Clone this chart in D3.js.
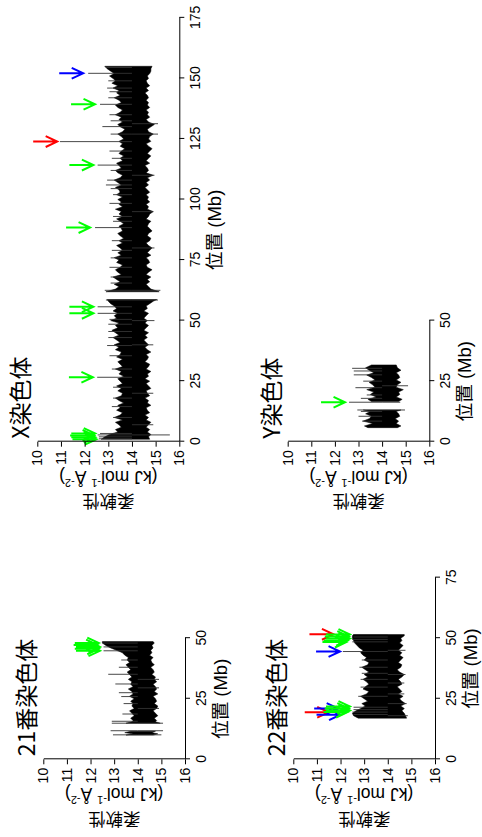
<!DOCTYPE html>
<html><head><meta charset="utf-8">
<script src="https://cdn.jsdelivr.net/npm/d3@7"></script>
<style>
html,body{margin:0;padding:0;background:#fff;}
svg{display:block;}
</style>
</head><body>
<script>
// ---------------- DATA ----------------
// Flexibility (kJ mol-1 Å-2) vs. position (Mb): band = lower / upper envelope, null = gap
const chr21Pos = [10.0,10.5,11.0,11.6,null,14.9,15.5,16,17,18,19,20,21,22,23,24,25,26,27,28,29,30,31,32,33,34,35,36,37,38,39,40,41,42,43,44,45,46,47,48,48.6];
const chr21Lo  = [13.5,13.8,13.45,13.7,null,13.5,13.75,13.8,13.7,13.85,13.75,13.65,13.85,13.75,13.8,13.7,13.85,13.65,13.8,13.75,13.6,13.8,13.7,13.75,13.6,13.75,13.65,13.55,13.7,13.6,13.5,13.65,13.55,13.6,13.45,13.35,13.1,12.85,12.65,12.5,12.5];
const chr21Hi  = [14.65,14.85,14.6,14.75,null,14.95,14.75,14.8,14.7,14.85,14.75,14.65,14.8,14.85,14.7,14.8,14.75,14.65,14.85,14.7,14.8,14.75,14.65,14.8,14.7,14.75,14.6,14.7,14.65,14.55,14.7,14.6,14.55,14.65,14.5,14.6,14.55,14.65,14.6,14.7,14.65];
const chr21Spikes = [[44.8,12.55],[46.4,12.55],[48,12.5],[35.1,12.75],[31.1,13.05],[38,13.2],[27.5,13.2],[25.9,13.3],[23.0,13.4],[18.7,13.35],[15.7,12.9],[14.9,12.9],[14.9,15.07],[11.8,12.85],[11.8,15.07],[10.1,12.95],[10.1,15.0],[33,14.9],[21,14.9],[29.5,14.9],[41,13.3]];
const chr21Red = [];
const chr21Blue = [];
const chr21Green = [[48.0,12.35],[47.2,12.3],[46.4,12.4],[45.6,12.35],[44.8,12.4]];

const chr22Pos = [17,18,19,20,21,22,23,24,25,26,27,28,29,30,31,32,33,34,35,36,37,38,39,40,41,42,43,44,45,46,47,48,49,50,51,51.5];
const chr22Lo  = [12.75,12.55,12.5,12.65,12.85,13.05,12.9,13.15,13.0,12.85,13.1,13.2,12.95,13.05,13.2,13.1,12.95,13.15,13.0,13.2,13.05,12.9,13.15,13.2,13.0,13.1,12.95,12.85,12.95,12.8,12.7,12.6,12.55,12.5,12.5,12.55];
const chr22Hi  = [14.8,14.75,14.7,14.6,14.7,14.55,14.75,14.6,14.5,14.65,14.45,14.6,14.5,14.4,14.6,14.55,14.45,14.6,14.7,14.5,14.4,14.55,14.6,14.45,14.55,14.65,14.5,14.6,14.45,14.55,14.65,14.5,14.6,14.55,14.7,14.7];
const chr22Spikes = [[51.5,12.55],[50.5,12.55],[49.5,12.5],[48.5,12.5],[44.5,12.1],[21.5,12.55],[20.5,12.55],[19.5,12.5],[18.5,12.55],[38,12.8],[33,12.85],[29.8,12.85],[26,12.75],[41,12.9],[35.5,12.9],[23,14.8],[18,14.85],[35,14.75],[27,14.7],[45,14.75],[31.5,14.7]];
const chr22Red = [[51.6,11.7],[19.4,11.5]];
const chr22Blue = [[44.5,11.98],[21.0,11.9],[18.4,12.0]];
const chr22Green = [[51.5,12.4],[50.7,12.35],[49.9,12.4],[49.1,12.3],[48.4,12.25],[21.8,12.4],[21.0,12.35],[20.2,12.4],[19.5,12.3]];

const chrXPos = [1,2,3,4,5,6,7,8,9,10,11,12,13,14,15,16,17,18,19,20,21,22,23,24,25,26,27,28,29,30,31,32,33,34,35,36,37,38,39,40,41,42,43,44,45,46,47,48,49,50,51,52,53,54,55,56,57,58,58.7,null,
  61.9,63,64,65,66,67,68,69,70,71,72,73,74,75,76,77,78,79,80,81,82,83,84,85,86,87,88,89,90,91,92,93,94,95,96,97,98,99,100,101,102,103,104,105,106,107,108,109,110,111,112,113,114,115,116,117,118,119,120,121,122,123,124,125,126,127,128,129,130,131,132,133,134,135,136,137,138,139,140,141,142,143,144,145,146,147,148,149,150,151,152,153,154,155];
const chrXLo = [12.7,12.85,13.05,13.4,13.3,13.55,13.45,13.3,13.6,13.25,13.5,13.6,13.35,13.5,13.4,13.65,13.45,13.3,13.55,13.6,13.4,13.55,13.35,13.6,13.5,13.4,13.65,13.45,13.55,13.3,13.6,13.5,13.4,13.6,13.35,13.5,13.55,13.3,13.45,13.25,13.5,13.35,13.2,13.45,13.3,13.15,13.4,13.3,13.45,13.1,13.35,13.25,13.4,13.2,13.35,13.25,13.1,13.0,12.95,null,
  12.9,13.3,13.45,13.25,13.5,13.35,13.2,13.55,13.4,13.3,13.5,13.6,13.35,13.45,13.25,13.55,13.4,13.6,13.5,13.35,13.6,13.45,13.65,13.5,13.4,13.6,13.55,13.45,13.65,13.5,13.35,13.6,13.45,13.55,13.3,13.6,13.45,13.55,13.4,13.6,13.35,13.5,13.45,13.3,13.55,13.4,13.25,13.5,13.6,13.4,13.3,13.55,13.45,13.35,13.6,13.5,13.65,13.45,13.55,13.7,13.5,13.6,13.45,13.65,13.55,13.4,13.6,13.7,13.5,13.4,13.6,13.45,13.55,13.3,13.5,13.6,13.4,13.3,13.55,13.45,13.25,13.5,13.35,13.45,13.2,13.4,13.15,13.3,13.2,13.05,13.25,13.1,12.95,12.85];
const chrXHi = [14.75,14.7,14.8,14.65,14.75,14.6,14.7,14.8,14.6,14.7,14.55,14.75,14.65,14.6,14.8,14.65,14.7,14.55,14.75,14.65,14.6,14.8,14.7,14.6,14.75,14.55,14.7,14.65,14.8,14.6,14.7,14.75,14.55,14.65,14.7,14.6,14.8,14.65,14.55,14.7,14.6,14.5,14.65,14.55,14.7,14.5,14.6,14.7,14.55,14.65,14.5,14.6,14.7,14.5,14.65,14.6,14.75,14.9,15.05,null,
  15.15,14.8,14.7,14.6,14.75,14.65,14.8,14.6,14.7,14.85,14.65,14.6,14.75,14.7,14.6,14.8,14.65,14.75,14.85,14.7,14.6,14.75,14.8,14.65,14.7,14.85,14.75,14.65,14.7,14.8,14.6,14.7,14.75,14.9,14.65,14.7,14.6,14.75,14.65,14.7,14.6,14.75,14.65,14.55,14.7,14.6,14.75,14.65,14.9,14.6,14.7,14.65,14.55,14.75,14.6,14.7,14.8,14.65,14.75,14.85,14.7,14.6,14.8,14.7,14.75,14.9,14.7,14.65,14.8,14.95,14.7,14.6,14.75,14.65,14.7,14.6,14.75,14.65,14.7,14.6,14.7,14.65,14.55,14.7,14.6,14.75,14.65,14.6,14.7,14.65,14.75,14.8,14.8,14.85];
const chrXSpikes = [[1.2,12.6],[2.0,12.6],[2.8,12.55],[3.4,12.65],[10,13.2],[18,13.2],[26.6,12.53],[30,13.15],[35.5,13.05],[39.7,12.95],[45.5,13.0],[48.5,13.0],[53.0,12.55],[55.7,12.55],[58.5,12.9],[62.5,12.85],[68,13.1],[72,13.05],[75.9,13.1],[83,13.15],[88.4,12.44],[93,13.2],[98.4,13.05],[102,13.2],[106,12.9],[108,12.95],[112,13.1],[114.2,12.55],[120,13.05],[123.9,10.96],[127,13.1],[130.1,12.75],[135,13.05],[139.3,12.65],[142,13.0],[146,12.95],[149,13.0],[152.1,12.15],[154.5,12.9],
  [14.5,13.15],[22.5,13.2],[43,13.0],[50.5,13.05],[65.5,13.1],[79,13.15],[91,13.2],[104.5,13.1],[117,13.15],[132.5,13.1],[144.5,13.05],
  [2.8,15.6],[50,14.95],[58.5,15.1],[62.5,15.2],[127,15.1],[131.3,15.1],[110,14.95],[95,14.9],[40,14.9],[20,14.9],[7,14.9],[80,14.95]];
const chrXRed = [[123.9,10.84]];
const chrXBlue = [[152.1,11.94]];
const chrXGreen = [[26.6,12.35],[53.0,12.37],[55.7,12.37],[88.4,12.23],[114.2,12.37],[139.3,12.44],[3.4,12.45],[2.6,12.4],[1.8,12.45],[1.0,12.5]];

const chrYPos = [5.8,6.5,7.5,8.5,9.5,10.5,11.5,12.5,13.1,null,16.6,17.5,18.5,19.5,20.5,21.5,22.5,23.5,24.5,25.5,26.5,27.5,28.5,29.5,30.5,31.7];
const chrYLo  = [13.4,13.25,13.6,13.2,13.45,13.55,13.3,13.5,13.2,null,13.55,13.4,13.75,13.5,13.65,13.35,13.7,13.6,13.45,13.7,13.55,13.35,13.65,13.45,13.3,13.55];
const chrYHi  = [14.65,14.8,14.6,14.7,14.55,14.75,14.7,14.6,14.8,null,14.7,14.85,14.6,14.75,14.7,14.9,14.6,14.65,14.8,14.6,14.75,14.7,14.6,14.8,14.65,14.6];
const chrYSpikes = [[16.3,12.6],[16.3,14.77],[30.3,12.73],[29.2,12.8],[27.6,12.8],[22.3,12.87],[19.3,13.35],[17.9,13.1],[25,13.2],[12.5,13.1],[8.5,13.15],[10.5,13.0],[13.1,12.95],[13.1,14.97],[23.1,15.1]];
const chrYRed = [];
const chrYBlue = [];
const chrYGreen = [[16.3,12.43]];

const titles = ["21番染色体","22番染色体","X染色体","Y染色体"];
const xTicks21 = [0,25,50], xTicks22 = [0,25,50,75], xTicksX = [0,25,50,75,100,125,150,175], xTicksY = [0,25,50];
const yTicks = [10,11,12,13,14,15,16];
const xLabel = "位置 (Mb)";
const yLabel1 = "柔軟性";

// ---------------- DRAW ----------------
const svg = d3.select("body").append("svg").attr("width",482).attr("height",837);
svg.append("rect").attr("width",482).attr("height",837).attr("fill","#fff");
// whole figure is drawn in landscape and turned a quarter turn
const root = svg.append("g").attr("transform","translate(0,837) rotate(-90)");

const PXMB = 2.422;
const latin = "'Liberation Sans', Arial, 'Noto Sans CJK JP', sans-serif";
const cjk = "'Noto Sans CJK JP', 'Noto Sans CJK SC', sans-serif";

function panel(c){
  const g = root.append("g");
  const xmax = c.xTicks[c.xTicks.length-1];
  const xs = d3.scaleLinear().domain([0, xmax]).range([c.u0, c.u0 + xmax*PXMB]);
  const ys = d3.scaleLinear().domain([10,16]).range([c.v10, c.v16]);
  const pts = c.pos.map((p,i)=>({p, lo:c.lo[i], hi:c.hi[i]}));
  const area = d3.area().defined(d=>d.p!=null).x(d=>xs(d.p)).y0(d=>ys(d.lo)).y1(d=>ys(d.hi));
  g.append("path").attr("d", area(pts)).attr("fill","#000").attr("stroke","#000").attr("stroke-width",0.5);
  g.selectAll("line.sp").data(c.spikes).join("line").attr("class","sp")
    .attr("x1",d=>xs(d[0])).attr("x2",d=>xs(d[0]))
    .attr("y1",d=>ys(d[1])).attr("y2",ys(14))
    .attr("stroke","#333").attr("stroke-width",0.9);
  const arrowSets = [[c.red,"#ff0000"],[c.blue,"#0000ff"],[c.green,"#00ff00"]];
  arrowSets.forEach(([arr,col])=>{
    g.selectAll(null).data(arr).join("path")
      .attr("d",d=>{const x=xs(d[0]), y=ys(d[1]);
        return `M${x},${y-24}L${x},${y}M${x-5.4},${y-11.5}L${x},${y}L${x+5.4},${y-11.5}`;})
      .attr("fill","none").attr("stroke",col).attr("stroke-width",2);
  });
  const ax = g.append("g").attr("transform",`translate(0,${c.v16})`)
    .call(d3.axisBottom(xs).tickValues(c.xTicks).tickFormat(d3.format("d")).tickSize(5).tickSizeOuter(0).tickPadding(6));
  const ay = g.append("g").attr("transform",`translate(${c.u0},0)`)
    .call(d3.axisLeft(ys).tickValues(yTicks).tickFormat(d3.format("d")).tickSize(5).tickSizeOuter(0).tickPadding(3.5));
  [ax,ay].forEach(a=>{
    a.attr("font-family",latin).attr("font-size",14);
    a.selectAll("path,line").attr("stroke","#000").attr("stroke-width",1);
    a.selectAll("text").attr("fill","#000");
  });
  g.append("text").attr("x",(xs.range()[0]+xs.range()[1])/2).attr("y",c.v16+35)
    .attr("text-anchor","middle").attr("dominant-baseline","central")
    .attr("font-family",latin).attr("font-size",18.5).text(xLabel);
  const yc = (c.v10+c.v16)/2;
  g.append("text").attr("transform",`translate(${c.u0-61},${yc}) rotate(-90)`)
    .attr("text-anchor","middle").attr("dominant-baseline","central")
    .attr("font-family",cjk).attr("font-size",17.5).text(yLabel1);
  const t2 = g.append("text").attr("transform",`translate(${c.u0-35},${yc}) rotate(-90)`)
    .attr("text-anchor","middle").attr("dominant-baseline","central")
    .attr("font-family",latin).attr("font-size",17.5);
  t2.append("tspan").text("(kJ mol");
  t2.append("tspan").attr("font-size",11).attr("dy",-6).text("-1");
  t2.append("tspan").attr("dy",6).text(" Å");
  t2.append("tspan").attr("font-size",11).attr("dy",-6).text("-2");
  t2.append("tspan").attr("dy",6).text(")");
  g.append("text").attr("x",c.u0+3).attr("y",c.v10-18)
    .attr("dominant-baseline","central").attr("font-family",cjk).attr("font-size",23).text(c.title);
}

panel({u0:77.7, v10:43.3, v16:185, xTicks:xTicks21, title:titles[0], pos:chr21Pos, lo:chr21Lo, hi:chr21Hi, spikes:chr21Spikes, red:chr21Red, blue:chr21Blue, green:chr21Green});
panel({u0:77.7, v10:293.3, v16:435, xTicks:xTicks22, title:titles[1], pos:chr22Pos, lo:chr22Lo, hi:chr22Hi, spikes:chr22Spikes, red:chr22Red, blue:chr22Blue, green:chr22Green});
panel({u0:395.3, v10:37.3, v16:179.3, xTicks:xTicksX, title:titles[2], pos:chrXPos, lo:chrXLo, hi:chrXHi, spikes:chrXSpikes, red:chrXRed, blue:chrXBlue, green:chrXGreen});
panel({u0:395.3, v10:287.7, v16:429.3, xTicks:xTicksY, title:titles[3], pos:chrYPos, lo:chrYLo, hi:chrYHi, spikes:chrYSpikes, red:chrYRed, blue:chrYBlue, green:chrYGreen});
</script>
</body></html>
